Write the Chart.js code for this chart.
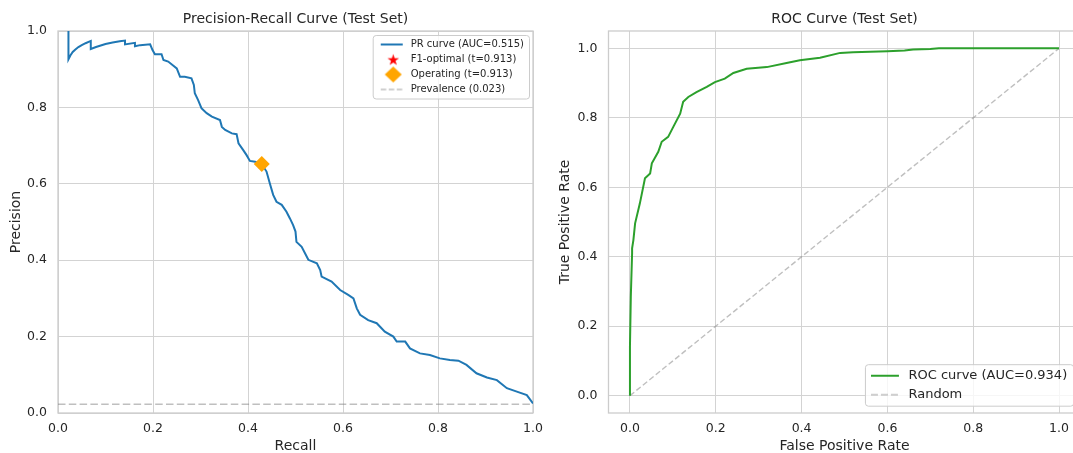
<!DOCTYPE html>
<html lang="en">
<head>
<meta charset="UTF-8">
<title>PR and ROC curves (Test Set)</title>
<script src="https://cdn.jsdelivr.net/npm/chart.js@4.4.0/dist/chart.umd.min.js"></script>
<style>
  html, body { margin: 0; padding: 0; background: #fff; overflow: hidden; width: 1073px; height: 453px; }
  .panel { position: absolute; top: 0; }
  #prBox { left: 0; }
  #rocBox { left: 545px; }
</style>
</head>
<body>
<div class="panel" id="prBox"><canvas id="prChart" width="560" height="453"></canvas></div>
<div class="panel" id="rocBox"><canvas id="rocChart" width="545" height="453"></canvas></div>
<script>
// ---- data ----
const prRecall = [0.022, 0.022, 0.026, 0.031, 0.036, 0.043, 0.050, 0.058, 0.069, 0.069, 0.080, 0.090, 0.100,
  0.115, 0.130, 0.141, 0.141, 0.162, 0.162, 0.173, 0.194, 0.199, 0.204, 0.218, 0.222, 0.232, 0.243, 0.250,
  0.257, 0.267, 0.281, 0.286, 0.288, 0.295, 0.302, 0.313, 0.324, 0.341, 0.345, 0.352, 0.366, 0.376, 0.380,
  0.390, 0.397, 0.404, 0.415, 0.429, 0.439, 0.446, 0.453, 0.460, 0.471, 0.481, 0.488, 0.495, 0.500, 0.502,
  0.513, 0.520, 0.527, 0.545, 0.552, 0.555, 0.576, 0.594, 0.611, 0.622, 0.629, 0.636, 0.653, 0.671, 0.688,
  0.706, 0.713, 0.731, 0.741, 0.762, 0.783, 0.804, 0.825, 0.843, 0.860, 0.881, 0.903, 0.924, 0.945, 0.966,
  0.987, 1.000];
const prPrecision = [1.000, 0.926, 0.936, 0.945, 0.951, 0.958, 0.963, 0.968, 0.974, 0.953, 0.958, 0.962, 0.966,
  0.970, 0.973, 0.975, 0.965, 0.969, 0.960, 0.963, 0.965, 0.950, 0.939, 0.939, 0.924, 0.920, 0.909, 0.902,
  0.880, 0.880, 0.876, 0.859, 0.837, 0.819, 0.798, 0.785, 0.776, 0.767, 0.749, 0.741, 0.732, 0.730, 0.706,
  0.688, 0.675, 0.660, 0.658, 0.651, 0.632, 0.601, 0.571, 0.553, 0.545, 0.527, 0.510, 0.492, 0.475, 0.448,
  0.435, 0.418, 0.401, 0.392, 0.374, 0.357, 0.344, 0.322, 0.309, 0.300, 0.274, 0.257, 0.243, 0.235, 0.213,
  0.200, 0.187, 0.187, 0.169, 0.156, 0.152, 0.143, 0.139, 0.137, 0.126, 0.104, 0.093, 0.086, 0.065, 0.056,
  0.047, 0.025];

const rocFpr = [0, 0, 0.002, 0.005, 0.005, 0.008, 0.012, 0.023, 0.035, 0.047, 0.051, 0.066, 0.074, 0.089,
  0.101, 0.117, 0.124, 0.136, 0.155, 0.179, 0.198, 0.221, 0.241, 0.272, 0.319, 0.365, 0.396, 0.443, 0.490,
  0.520, 0.560, 0.600, 0.640, 0.660, 0.700, 0.720, 1.000];
const rocTpr = [0, 0.142, 0.285, 0.410, 0.424, 0.448, 0.496, 0.553, 0.626, 0.640, 0.669, 0.702, 0.731, 0.745,
  0.774, 0.812, 0.846, 0.860, 0.874, 0.889, 0.903, 0.913, 0.929, 0.941, 0.946, 0.958, 0.966, 0.973, 0.987,
  0.989, 0.990, 0.992, 0.994, 0.997, 0.998, 1.000, 1.000];

const randomFpr = [0, 1];
const randomTpr = [0, 1];

const prAuc = 0.515;
const rocAuc = 0.934;
const f1Threshold = 0.913;
const opThreshold = 0.913;
const f1Point = [0.429, 0.652];      // recall, precision
const opPoint = [0.429, 0.652];
const prevalence = 0.023;
const tickValues = [0, 0.2, 0.4, 0.6, 0.8, 1.0];

// ---- styling ----
const TEXT = '#262626';
const GRID = '#d3d3d3';
const EDGE = '#cccccc';
const BLUE = '#1f77b4';
const GREEN = '#2ca02c';
const ORANGE = '#ffa500';
const RED = '#ff0000';
const GRAY = 'rgba(128,128,128,0.5)';

Chart.defaults.font.family = "'DejaVu Sans', sans-serif";
Chart.defaults.color = TEXT;

const toXY = (xs, ys) => xs.map((x, i) => ({x: x, y: ys[i]}));

// small canvases used as legend handles
function lineHandle(color, width, dash, boxW, from, len) {
  const c = document.createElement('canvas');
  c.width = boxW; c.height = 10;
  const g = c.getContext('2d');
  g.strokeStyle = color; g.lineWidth = width; g.setLineDash(dash);
  g.beginPath(); g.moveTo(from, 5); g.lineTo(from + len, 5); g.stroke();
  return c;
}
function starImage(R, boxW, cx, h) {
  const c = document.createElement('canvas');
  c.width = boxW; c.height = h;
  const g = c.getContext('2d');
  const r = R * 0.382;
  g.beginPath();
  for (let k = 0; k < 10; k++) {
    const ang = -Math.PI / 2 + k * Math.PI / 5;
    const rad = k % 2 ? r : R;
    g.lineTo(cx + rad * Math.cos(ang), h / 2 + 0.6 + rad * Math.sin(ang));
  }
  g.closePath();
  g.fillStyle = RED; g.fill();
  return c;
}
function diamondImage(hw, hh, boxW, cx) {
  const c = document.createElement('canvas');
  c.width = boxW; c.height = 18;
  const g = c.getContext('2d');
  g.beginPath();
  g.moveTo(cx, 9 - hh); g.lineTo(cx + hw, 9); g.lineTo(cx, 9 + hh); g.lineTo(cx - hw, 9);
  g.closePath();
  g.fillStyle = ORANGE; g.fill();
  return c;
}

// frame round the plot area
const axesFrame = {
  id: 'axesFrame',
  beforeDatasetsDraw(chart) {
    const {ctx, chartArea: a} = chart;
    ctx.save();
    ctx.strokeStyle = EDGE; ctx.lineWidth = 1.3;
    ctx.strokeRect(a.left, a.top, a.right - a.left, a.bottom - a.top);
    ctx.restore();
  }
};

// move the legend inside the plot area and give it a box, like matplotlib
function legendFrame(corner, inset) {
  return {
    id: 'legendFrame',
    afterLayout(chart) {
      const lg = chart.legend, a = chart.chartArea;
      const pad = lg.options.labels.padding;
      const fs = lg.options.labels.font.size;
      const n = lg.legendItems.length;
      const w = lg.columnSizes[0].width + 2 * pad;
      const h = n * (fs + pad) + 3.5;
      const fx = a.right - inset - w;
      const fy = corner === 'top' ? a.top + inset : a.bottom - inset - h;
      lg._frame = {x: fx, y: fy, w: w, h: h};
      lg.left = fx; lg.right = fx + w;
      lg.top = fy + 2 - pad / 2;
      lg.bottom = lg.top + pad + n * (fs + pad) + 2;
      lg.width = w; lg.height = lg.bottom - lg.top;
      if (!lg._wrapped) {
        const orig = lg.draw;
        lg.draw = function () {
          const f = this._frame, ctx = this.ctx;
          ctx.save();
          ctx.beginPath();
          if (ctx.roundRect) ctx.roundRect(f.x + 0.5, f.y + 0.5, f.w, f.h, 3);
          else ctx.rect(f.x + 0.5, f.y + 0.5, f.w, f.h);
          ctx.fillStyle = 'rgba(255,255,255,0.8)'; ctx.fill();
          ctx.strokeStyle = EDGE; ctx.lineWidth = 1; ctx.stroke();
          ctx.restore();
          orig.apply(this, arguments);
        };
        lg._wrapped = true;
      }
    }
  };
}

function legendLabels(chart) {
  return chart.data.datasets.map((ds, i) => ({
    text: ds.label, pointStyle: ds.handle, fillStyle: 'transparent', strokeStyle: 'transparent',
    lineWidth: 0, hidden: false, datasetIndex: i, fontColor: TEXT
  }));
}

function axis(min, max, title, fitSize, isX, titlePad) {
  return {
    type: 'linear', min: min, max: max,
    afterBuildTicks: s => { s.ticks = tickValues.map(v => ({value: v})); },
    afterFit: s => { if (isX) s.height = fitSize; else s.width = fitSize; },
    grid: { color: GRID, lineWidth: 1, drawTicks: false },
    border: { display: false },
    ticks: { padding: isX ? 8 : 11, autoSkip: false, maxRotation: 0, font: { size: 12.5 }, color: TEXT,
             callback: v => Number(v).toFixed(1) },
    title: { display: true, text: title, font: { size: 14 }, color: TEXT, padding: titlePad }
  };
}

// ---- Precision-Recall ----
new Chart(document.getElementById('prChart'), {
  type: 'scatter',
  data: {
    datasets: [
      { label: 'PR curve (AUC=' + prAuc.toFixed(3) + ')', data: toXY(prRecall, prPrecision), showLine: true,
        borderColor: BLUE, borderWidth: 2, pointRadius: 0, tension: 0, order: 2,
        handle: lineHandle(BLUE, 2, [], 28, 3, 22) },
      { label: 'F1-optimal (t=' + f1Threshold.toFixed(3) + ')', data: [{x: f1Point[0], y: f1Point[1]}],
        pointStyle: starImage(5.5, 14, 7, 14), pointRadius: 6, order: 1,
        handle: starImage(6.1, 28, 15.5, 14) },
      { label: 'Operating (t=' + opThreshold.toFixed(3) + ')', data: [{x: opPoint[0], y: opPoint[1]}],
        pointStyle: 'rectRot', pointRadius: 8, backgroundColor: ORANGE, borderWidth: 0, order: 0,
        handle: diamondImage(8.5, 8, 28, 15.5) },
      { label: 'Prevalence (' + prevalence.toFixed(3) + ')', data: [{x: 0, y: prevalence}, {x: 1, y: prevalence}],
        showLine: true, borderColor: GRAY, borderWidth: 1.5, borderDash: [7.5, 3.3], pointRadius: 0, order: 3,
        handle: lineHandle(GRAY, 1.5, [5.5, 2.5], 28, 3, 22) }
    ]
  },
  options: {
    responsive: false, animation: false, events: [],
    layout: { padding: { left: 0, right: 27, top: 0, bottom: 0 } },
    scales: {
      x: axis(0, 1, 'Recall', 40, true, { top: 0, bottom: -1.4 }),
      y: axis(0, 1, 'Precision', 58, false, { top: 7.6, bottom: 0 })
    },
    plugins: {
      title: { display: true, text: 'Precision-Recall Curve (Test Set)', fullSize: false, color: TEXT,
               font: { size: 14, weight: 'normal' }, padding: { top: 11, bottom: 3.2 } },
      legend: { position: 'chartArea', align: 'start',
                labels: { usePointStyle: true, pointStyleWidth: 28, padding: 5, font: { size: 10 }, color: TEXT,
                          generateLabels: legendLabels } },
      tooltip: { enabled: false }
    }
  },
  plugins: [axesFrame, legendFrame('top', 4)]
});

// ---- ROC ----
new Chart(document.getElementById('rocChart'), {
  type: 'scatter',
  data: {
    datasets: [
      { label: 'ROC curve (AUC=' + rocAuc.toFixed(3) + ')', data: toXY(rocFpr, rocTpr), showLine: true,
        borderColor: GREEN, borderWidth: 2, pointRadius: 0, tension: 0, order: 0,
        handle: lineHandle(GREEN, 2, [], 31, 0, 28) },
      { label: 'Random', data: toXY(randomFpr, randomTpr), showLine: true,
        borderColor: GRAY, borderWidth: 1.4, borderDash: [5.5, 2.8], pointRadius: 0, order: 1,
        handle: lineHandle(GRAY, 1.4, [7, 3], 31, 0, 28) }
    ]
  },
  options: {
    responsive: false, animation: false, events: [],
    layout: { padding: { left: 0, right: 9.5, top: 0, bottom: 0 } },
    scales: {
      x: axis(-0.05, 1.05, 'False Positive Rate', 40, true, { top: 0, bottom: -1.4 }),
      y: axis(-0.05, 1.05, 'True Positive Rate', 63.5, false, { top: 11.6, bottom: 0 })
    },
    plugins: {
      title: { display: true, text: 'ROC Curve (Test Set)', fullSize: false, color: TEXT,
               font: { size: 14, weight: 'normal' }, padding: { top: 11, bottom: 3.2 } },
      legend: { position: 'chartArea', align: 'start',
                labels: { usePointStyle: true, pointStyleWidth: 31, padding: 6, font: { size: 13 }, color: TEXT,
                          generateLabels: legendLabels } },
      tooltip: { enabled: false }
    }
  },
  plugins: [axesFrame, legendFrame('bottom', 7.3)]
});
</script>
</body>
</html>
